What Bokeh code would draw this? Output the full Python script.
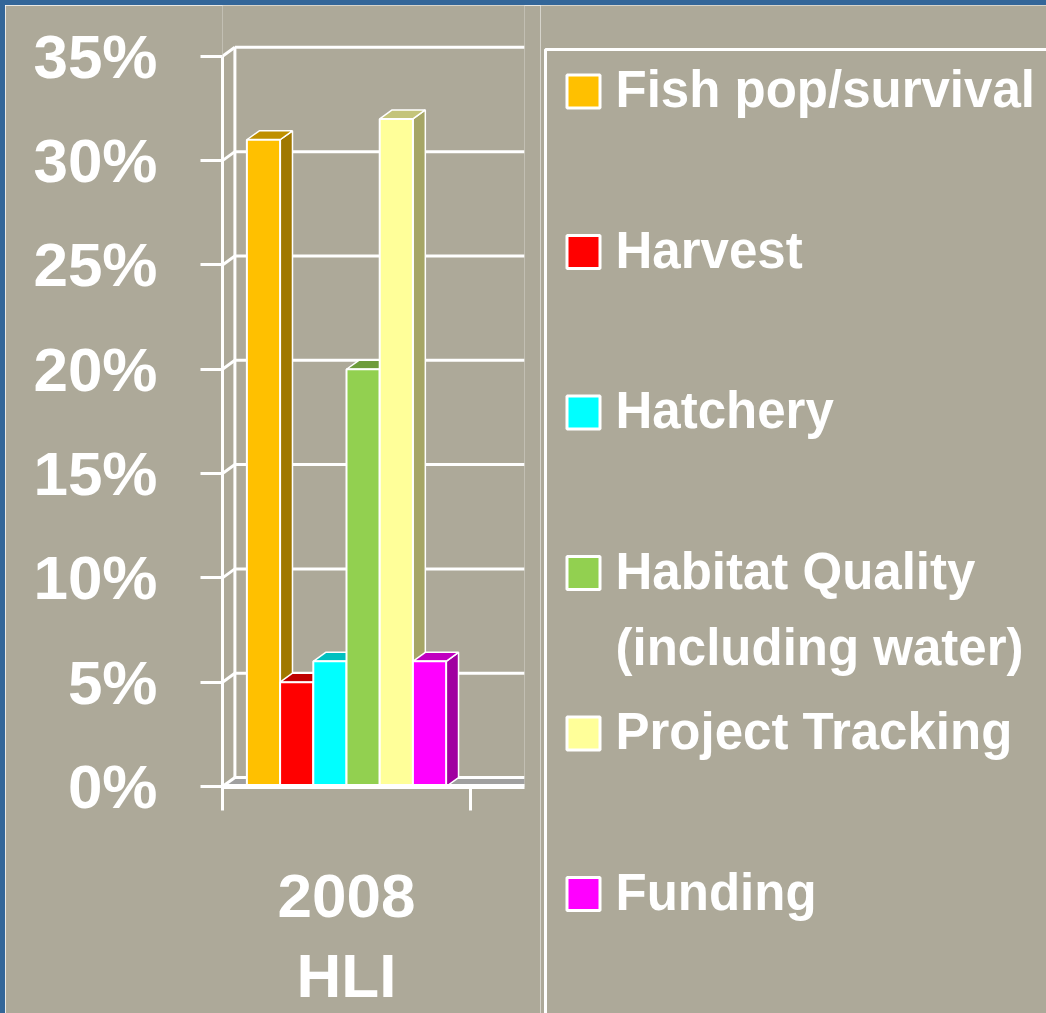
from bokeh.plotting import figure
from bokeh.models import Range1d, FixedTicker, ColumnDataSource, Div
from bokeh.layouts import row, column
from bokeh.embed import file_html
from bokeh.resources import INLINE
from bokeh.core.properties import value

# ---------------- data ----------------
categories = ["Fish pop/survival", "Harvest", "Hatchery",
              "Habitat Quality\n(including water)", "Project Tracking", "Funding"]
values = [31, 5, 6, 20, 32, 6]
group_label = "2008\nHLI"
y_ticks = [0, 5, 10, 15, 20, 25, 30, 35]
y_tick_labels = ["0%", "5%", "10%", "15%", "20%", "25%", "30%", "35%"]

# ---------------- styles ----------------
front_colors = ["#FFC000", "#FF0000", "#00FFFF", "#92D050", "#FFFF99", "#FF00FF"]
top_colors = ["#BF9000", "#C00000", "#00C0C0", "#6E9C3C", "#C4C47A", "#C000C0"]
side_colors = ["#A07800", "#A00000", "#00A0A0", "#5C8232", "#A6A666", "#A000A0"]
BG = "#ADA999"
BLUE = "#336699"
FLOOR = "#A0A0A0"
FONT = "Liberation Sans"

# geometry (in data units)
BW = 0.1339        # bar width (category band = 0..1)
DX = 0.050         # depth offset, x
DY = 0.43          # depth offset, y (percent)
XMAX = 1.2177
YMAX = 37.435
YTOP = 35

n = len(values)
centers = [0.5 + (i - (n - 1) / 2) * BW for i in range(n)]
lefts = [c - BW / 2 for c in centers]
rights = [c + BW / 2 for c in centers]

p = figure(width=535, height=1008, x_range=Range1d(0, XMAX), y_range=Range1d(0, YMAX),
           output_backend="svg", toolbar_location=None,
           min_border_left=217, min_border_right=16, min_border_top=0, min_border_bottom=224)
p.frame_align = False
p.background_fill_color = BG
p.border_fill_color = BG
p.outline_line_color = None
p.grid.visible = False

# floor
p.patch([0, XMAX, XMAX, DX], [0, 0, DY, DY], fill_color=FLOOR, line_color=None)

# back wall / left wall grid lines
gx0, gy0, gx1, gy1 = [], [], [], []
for t in y_ticks:
    gx0 += [0, DX]
    gy0 += [t, t + DY]
    gx1 += [DX, XMAX]
    gy1 += [t + DY, t + DY]
gx0.append(DX); gy0.append(DY); gx1.append(DX); gy1.append(YTOP + DY)
p.segment(x0=gx0, y0=gy0, x1=gx1, y1=gy1, line_color="white", line_width=3)

# 3D bars: sides, tops, fronts
side_xs = [[r, r + DX, r + DX, r] for r in rights]
side_ys = [[0, DY, v + DY, v] for v in values]
top_xs = [[l, r, r + DX, l + DX] for l, r in zip(lefts, rights)]
top_ys = [[v, v, v + DY, v + DY] for v in values]
p.patches(side_xs, side_ys, fill_color=side_colors, line_color="white", line_width=1.5)
p.patches(top_xs, top_ys, fill_color=top_colors, line_color="white", line_width=1.5)
src = ColumnDataSource(dict(x=centers, top=values, color=front_colors, cat=categories))
p.vbar(x="x", top="top", bottom=0, width=BW, fill_color="color", line_color="white",
       line_width=2, source=src)

# y axis
ya = p.yaxis[0]
ya.ticker = FixedTicker(ticks=y_ticks, minor_ticks=[])
ya.major_label_overrides = {t: lab for t, lab in zip(y_ticks, y_tick_labels)}
ya.bounds = (0, YTOP)
ya.axis_line_color = "white"
ya.axis_line_width = 3
ya.major_tick_line_color = "white"
ya.major_tick_line_width = 3
ya.major_tick_out = 22
ya.major_tick_in = 0
ya.minor_tick_line_color = None
ya.major_label_standoff = 43
ya.major_label_text_color = "white"
ya.major_label_text_font = FONT
ya.major_label_text_font_style = "bold"
ya.major_label_text_font_size = "62px"

# x axis
xa = p.xaxis[0]
xa.ticker = FixedTicker(ticks=[0.5], minor_ticks=[0, 1])
xa.major_label_overrides = {0.5: group_label}
xa.axis_line_color = "white"
xa.axis_line_width = 5
xa.major_tick_line_color = None
xa.major_tick_out = 0
xa.major_tick_in = 0
xa.minor_tick_line_color = "white"
xa.minor_tick_line_width = 3
xa.minor_tick_out = 24
xa.minor_tick_in = 0
xa.major_label_standoff = 50
xa.major_label_text_color = "white"
xa.major_label_text_font = FONT
xa.major_label_text_font_style = "bold"
xa.major_label_text_font_size = "62px"
xa.major_label_text_line_height = 1.17

# ---------------- legend panel ----------------
q = figure(width=506, height=1008, x_range=Range1d(540, 1046), y_range=Range1d(1013, 5),
           output_backend="svg", toolbar_location=None,
           x_axis_location=None, y_axis_location=None,
           min_border_left=0, min_border_right=0, min_border_top=0, min_border_bottom=0)
q.frame_align = False
q.background_fill_color = BG
q.border_fill_color = BG
q.outline_line_color = None
q.grid.visible = False

q.quad(left=545, right=1100, top=49, bottom=1100, fill_alpha=0, line_color="white", line_width=3)

item_y = [91 + 160.5 * i for i in range(n)]
q.rect(x=[583] * n, y=item_y, width=33, height=33, fill_color=front_colors,
       line_color="white", line_width=3)
tx, ty, tt = [], [], []
for yy, cat in zip(item_y, categories):
    for j, line in enumerate(cat.split("\n")):
        tx.append(615)
        ty.append(yy - 2 + j * 76)
        tt.append(line)
q.text(x=tx, y=ty, text=tt, text_color="white", text_font=value(FONT),
       text_font_style="bold", text_font_size="51px", text_align="left",
       text_baseline="alphabetic")

# slide border (blue band at left and top)
top_band = Div(width=1046, height=5, margin=0, styles={"background-color": BLUE})
left_band = Div(width=5, height=1008, margin=0, styles={"background-color": BLUE})

layout = column(top_band, row(left_band, p, q, spacing=0), spacing=0)
open("out.html", "w").write(file_html(layout, INLINE))
